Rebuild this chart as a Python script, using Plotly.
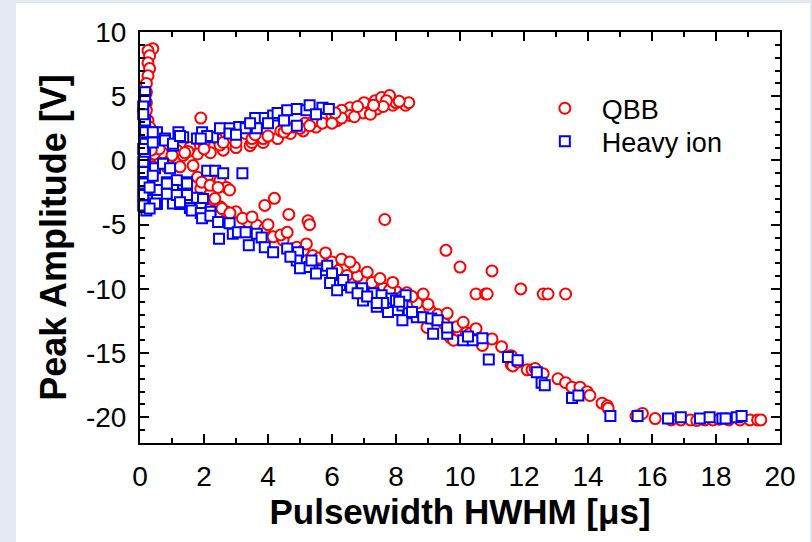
import plotly.graph_objects as go

# QBB pulses (red circles): pulsewidth HWHM [us], peak amplitude [V]
qbb_x = [0.4, 0.25, 0.3, 0.25, 0.3, 0.25, 0.2, 0.2, 0.2, 0.2, 0.25, 0.3, 0.25, 0.2, 0.25,
         0.5, 0.84, 1.25, 1.66, 1.8, 2.1, 2.5, 2.7, 2.8, 0.3, 0.4, 0.2, 0.15, 0.2, 0.3,
         0.6, 0.94, 1.35, 1.8, 2.2, 2.6, 3.0, 3.44, 3.85, 4.3, 4.7, 5.1, 5.5,
         0.7, 1.15, 1.56, 2.0, 2.4, 2.8, 3.3, 3.5, 3.85, 4.4, 4.8, 5.16, 5.4, 5.8, 6.16,
         6.5, 6.8, 7.1, 7.4, 7.66, 7.9, 8.0, 8.3, 7.0, 7.35, 7.55, 6.56, 6.3, 7.8, 6.56,
         6.97, 8.4, 7.7, 6.0, 5.7,
         1.0, 1.5, 2.0, 2.5, 3.0, 3.5, 4.0, 4.5, 5.0, 5.3, 6.0, 6.3, 6.7, 7.2, 7.6, 8.1,
         7.3, 6.8, 6.1, 4.6, 3.6, 2.6, 1.4, 0.45, 0.6, 0.35,
         1.9,
         1.9, 2.2, 2.3, 2.5, 2.7, 3.0, 1.93, 2.19, 2.44, 2.34, 2.56, 2.81, 3.38, 3.65, 3.9,
         4.16, 4.47, 4.9, 5.4, 5.84, 6.16, 6.47, 6.97, 7.25, 7.6, 8.03, 8.34, 8.66, 9.06,
         9.47, 9.9, 10.2, 10.4, 10.7, 11.6, 12.1,
         8.97, 9.5, 9.7, 9.8, 10.3, 10.6, 10.7, 3.2, 4.4, 5.1, 5.6, 6.0, 6.8, 7.8, 8.2, 9.3,
         3.5, 4.0, 4.6, 5.2, 5.8, 6.3, 6.7, 7.1, 7.5, 7.9, 8.5, 9.0, 9.6, 10.1, 10.5, 11.0, 11.3,
         3.9, 4.2, 4.65, 5.25, 5.3, 7.65, 6.56, 8.85, 9.56, 10.0, 11.0, 10.5, 10.8, 10.85,
         11.9, 12.6, 12.75, 13.3,
         11.6, 11.65, 11.8, 12.25, 12.35, 12.6, 13.06, 13.3, 13.5, 13.75, 13.97, 14.06,
         14.44, 14.6, 14.63,
         15.5, 15.7, 16.1, 16.6, 16.9, 17.2, 17.4, 17.65, 17.9, 18.1, 18.4, 18.75, 19.06,
         19.3, 19.4]
qbb_y = [8.7, 8.55, 8.15, 7.6, 7.15, 6.6, 6.0, 5.3, 4.5, 3.9, 3.1, 2.6, 2.1, 1.55, 1.0,
         0.0, -0.5, -0.5, -0.4, -1.3, -1.3, -1.55, -2.1, -2.3, -0.25, -0.5, 0.4, -1.0, -1.8, -1.3,
         0.2, 0.25, 0.4, 0.5, 0.6, 0.8, 1.0, 1.15, 1.4, 1.7, 2.1, 2.3, 2.6,
         0.6, 0.8, 1.0, 1.3, 1.7, 1.8, 2.1, 1.4, 1.7, 2.3, 2.6, 2.9, 3.0, 3.3, 3.1,
         3.65, 3.75, 3.9, 4.0, 4.8, 4.3, 4.5, 4.3, 4.5, 4.65, 4.9, 4.1, 3.9, 5.05, 3.5,
         3.7, 4.5, 4.65, 3.5, 2.9,
         0.4, 0.7, 0.9, 1.2, 1.4, 1.7, 1.9, 2.2, 2.5, 2.7, 2.9, 3.3, 3.4, 3.6, 4.2, 4.6,
         4.3, 4.2, 3.7, 2.5, 2.0, 1.4, 0.6, 0.5, 0.9, 0.8,
         3.3,
         -2.2, -2.6, -3.1, -3.6, -4.0, -4.0, -1.69, -1.94, -2.1, -2.97, -3.75, -4.1, -4.8, -5.05, -5.3,
         -5.95, -6.2, -6.75, -7.4, -8.2, -8.55, -8.95, -9.3, -9.5, -9.95, -10.25, -10.3, -11.1, -11.65,
         -12.4, -12.95, -13.4, -13.5, -14.2, -15.9, -16.3,
         -13.0, -12.7, -13.8, -14.0, -13.5, -14.0, -14.4, -4.5, -5.8, -7.0, -7.6, -7.9, -9.0, -10.1, -10.6, -12.0,
         -4.4, -5.0, -5.6, -6.5, -7.2, -7.7, -8.3, -8.7, -9.2, -9.5, -10.6, -11.2, -11.9, -12.6, -13.1, -13.9, -14.5,
         -3.5, -2.95, -4.2, -4.7, -5.0, -4.6, -7.9, -10.4, -7.0, -8.3, -8.6, -10.4, -10.4, -10.4,
         -10.0, -10.4, -10.4, -10.4,
         -15.2, -16.0, -15.7, -16.3, -16.2, -16.6, -17.0, -17.3, -17.65, -17.65, -18.0, -18.3,
         -18.9, -19.1, -19.3,
         -19.9, -19.7, -20.1, -20.2, -20.2, -20.2, -20.25, -20.2, -20.2, -20.15, -20.2, -20.2, -20.2,
         -20.2, -20.2]

# heavy ion pulses (blue squares)
ion_x = [0.16, 0.16, 0.1, 0.16, 0.16, 0.16, 0.16, 0.16, 0.16, 0.16, 0.22, 0.22, 0.2, 0.1,
         0.1, 0.1, 0.1, 0.1, 0.1, 0.1,
         0.53, 0.78, 1.03, 1.2, 1.35, 1.78, 1.94, 2.28, 2.5, 2.8, 3.1, 3.3, 3.65, 3.6, 3.9,
         4.16, 4.3, 4.6, 4.9, 5.2, 5.3, 5.7, 5.9, 4.9, 4.5, 2.8, 3.44, 2.1, 0.4, 0.4, 0.78,
         1.03, 1.25, 1.9, 5.5, 4.0, 3.0,
         0.47, 0.72, 0.94, 0.4, 0.84, 1.15, 1.47, 0.53, 1.03, 1.35, 1.78, 1.97, 0.53, 1.03,
         1.25, 1.56, 1.9, 2.2, 0.3, 0.47, 0.3, 1.03, 1.47, 0.84, 1.15, 1.47, 0.84, 1.25, 1.62,
         2.1, 2.35, 2.6, 3.2,
         1.9, 1.94, 2.2, 2.44, 2.47, 2.8, 2.9, 3.06, 3.3, 3.4, 3.65, 3.8, 3.9, 4.16, 4.6,
         4.94, 4.9, 5.0, 5.3, 5.36, 5.7, 5.85, 6.0, 5.94, 6.25, 6.35, 6.6, 6.94, 6.97, 7.3,
         7.4, 7.55, 7.86, 7.75, 8.06, 8.2, 8.4, 8.65, 8.85, 9.1, 9.16, 9.6, 9.3, 10.1, 10.4,
         10.7, 10.9, 11.5, 11.8, 4.7, 5.5, 6.16, 6.8, 7.1, 7.6, 8.0, 8.2, 8.5, 7.4, 9.6,
         10.25, 8.3, 8.1,
         12.4, 12.55, 12.65, 13.5, 13.7, 14.7, 15.55, 16.5, 16.9, 17.5, 17.8, 18.2, 18.3,
         18.65, 18.8]
ion_y = [5.3, 4.7, 4.2, 3.1, 2.3, 2.2, 1.3, 0.4, -0.5, -1.3, -2.2, -3.1, -3.9, 3.6,
         0.9, -0.1, -0.9, -1.8, -2.7, -3.5,
         2.2, 1.7, 1.15, 2.2, 1.8, 1.7, 2.2, 1.8, 2.5, 2.5, 2.6, 2.5, 2.5, 3.3, 3.3,
         3.5, 3.7, 3.9, 4.0, 3.9, 4.3, 4.1, 4.0, 2.7, 3.1, 2.1, 2.9, 1.9, 2.2, 1.4, 1.55,
         1.3, 1.9, 1.7, 3.6, 2.9, 2.0,
         -0.6, -0.25, -0.6, -1.2, -1.7, -1.55, -1.7, -2.3, -2.3, -2.6, -2.9, -3.0, -3.4, -3.1,
         -3.4, -3.7, -3.7, -4.0, -2.1, -3.35, -3.75, -3.35, -2.7, -2.6, -2.7, -1.8, -1.8, -3.25, -3.9,
         -0.8, -0.8, -1.0, -1.0,
         -4.1, -4.5, -4.3, -4.8, -6.1, -4.9, -5.7, -5.6, -5.6, -6.6, -5.7, -6.0, -6.75, -7.15, -6.85,
         -7.15, -7.8, -8.4, -8.3, -7.8, -8.55, -8.2, -8.8, -9.55, -9.7, -9.3, -9.9, -9.95, -10.9, -10.35,
         -11.4, -10.5, -10.75, -11.8, -11.65, -11.3, -11.9, -12.2, -12.2, -12.3, -13.5, -13.5, -12.45, -14.0, -14.0,
         -13.85, -15.5, -15.3, -15.55, -7.5, -8.8, -10.1, -10.35, -10.6, -11.1, -10.9, -12.45, -11.8, -11.1, -13.0,
         -13.7, -10.5, -11.0,
         -16.5, -17.3, -17.5, -18.5, -18.3, -19.9, -19.9, -20.1, -20.0, -20.1, -20.0, -20.1, -20.1,
         -20.0, -19.9]

# tick labels (plain hyphen minus as in the original)
x_ticks = [0, 2, 4, 6, 8, 10, 12, 14, 16, 18, 20]
y_ticks = [-20, -15, -10, -5, 0, 5, 10]
y_ticklabels = ["-20", "-15", "-10", "-5", "0", "5", "10"]

font = "Liberation Sans, Arial, sans-serif"
frame = "#e4e8f0"

fig = go.Figure()

fig.add_trace(go.Scatter(
    x=qbb_x, y=qbb_y, mode="markers", name="QBB", cliponaxis=False,
    legend="legend",
    marker=dict(symbol="circle", size=11, color="white",
                line=dict(color="#ff0000", width=2))
))
fig.add_trace(go.Scatter(
    x=ion_x, y=ion_y, mode="markers", name="Heavy ion", cliponaxis=False,
    legend="legend2",
    marker=dict(symbol="square", size=10, color="white",
                line=dict(color="#0000ff", width=2))
))

axis_common = dict(
    showline=True, linecolor="black", linewidth=2, mirror="ticks",
    ticks="inside", ticklen=9, tickwidth=2, tickcolor="black",
    showgrid=False, zeroline=False, automargin=False,
    tickfont=dict(family=font, size=28, color="black"),
)

# two single-entry legends so the row spacing matches the original
legend_common = dict(xanchor="left", yanchor="top", bgcolor="rgba(0,0,0,0)",
                     itemwidth=64, font=dict(family=font, size=27, color="black"))

# bluish frame strips round the white figure (left, top, right), in paper units
px_x = lambda p: (p - 140) / 640
px_y = lambda p: (443 - p) / 411
frame_strips = [
    dict(x0=px_x(-5), x1=px_x(16), y0=px_y(560), y1=px_y(-5)),
    dict(x0=px_x(-5), x1=px_x(820), y0=px_y(3), y1=px_y(-5)),
    dict(x0=px_x(810), x1=px_x(820), y0=px_y(560), y1=px_y(-5)),
]

fig.update_layout(
    width=812, height=542,
    margin=dict(l=140, r=32, t=32, b=99),
    paper_bgcolor="white",
    plot_bgcolor="white",
    showlegend=True,
    legend=dict(x=0.606, y=0.873, **legend_common),
    legend2=dict(x=0.606, y=0.793, **legend_common),
    xaxis=dict(range=[0, 20], tickvals=x_ticks, ticklabelstandoff=7,
               minor=dict(ticks="inside", dtick=1, ticklen=5, tickwidth=2, tickcolor="black"),
               title=dict(text="Pulsewidth HWHM [μs]", standoff=8,
                          font=dict(family=font, size=35, color="black", weight="bold")),
               **axis_common),
    yaxis=dict(range=[-22, 10], tickvals=y_ticks, ticktext=y_ticklabels,
               ticklabelstandoff=6,
               minor=dict(ticks="inside", dtick=1, ticklen=5, tickwidth=2, tickcolor="black"),
               title=dict(text="Peak Amplitude [V]", standoff=8,
                          font=dict(family=font, size=36, color="black", weight="bold")),
               **axis_common),
    shapes=[dict(type="rect", xref="paper", yref="paper", layer="below",
                 fillcolor=frame, line=dict(width=0), **s) for s in frame_strips],
)

# the page's default body margin would push the figure 8px off
fig.write_html("out.html", config={"displayModeBar": False},
               post_script="document.documentElement.style.overflow='hidden';"
                           "document.body.style.margin='0';"
                           "document.body.style.overflow='hidden';")
